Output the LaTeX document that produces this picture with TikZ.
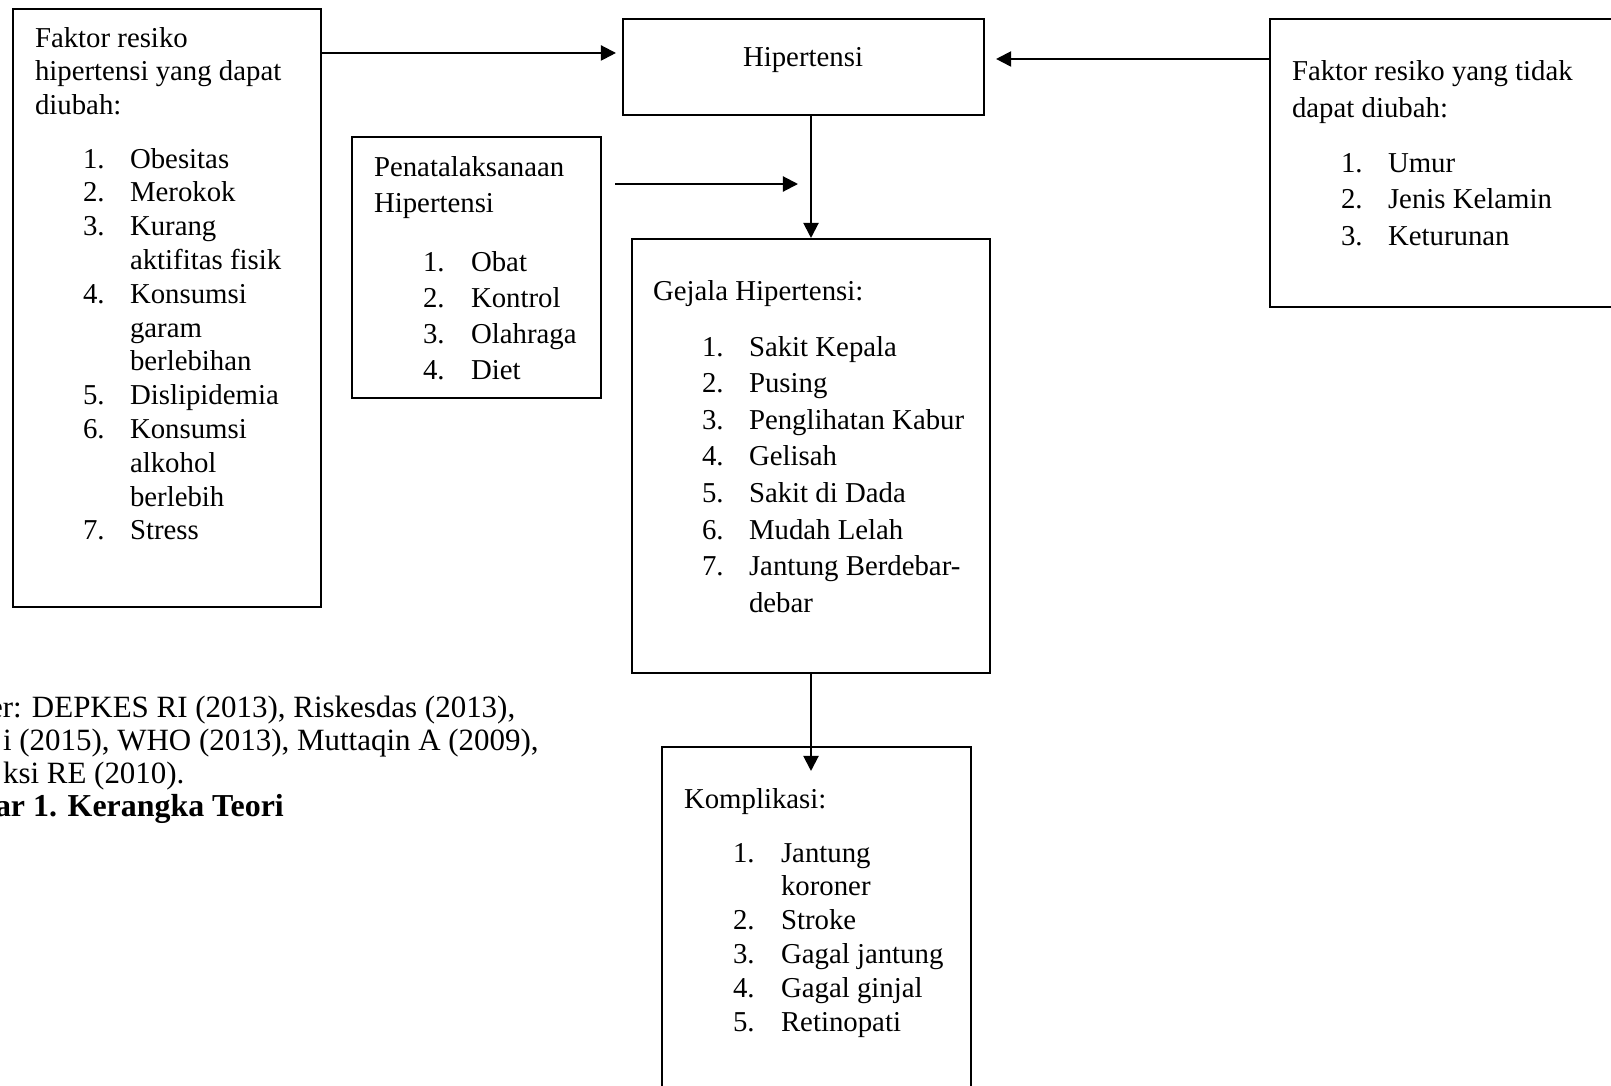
\documentclass[tikz,border=0pt]{standalone}
\usepackage{fontspec}
\setmainfont{Liberation Serif}
\usetikzlibrary{arrows.meta,calc,fit}

\begin{document}
\begin{tikzpicture}[x=0.41667pt,y=-0.41667pt,line width=0.85pt,
        >={Triangle[length=6.3pt,width=6.3pt]},
        box/.style={draw,rectangle,inner sep=0pt},
        txt/.style={anchor=mid west,inner sep=0pt,yshift=-1.9pt,font=\fontsize{12}{14}\selectfont},
        srctxt/.style={txt,font=\fontsize{12.9}{15}\selectfont}]
        \useasboundingbox (0,0) rectangle (1611,1085);
        \clip (0,0) rectangle (1611,1085);

        % boxes
        \node[box,fit={(13,9) (321,607)}] (fakt) {};
        \node[box,fit={(623,19) (984,115)}] (hip) {};
        \node[box,fit={(352,137) (601,398)}] (pen) {};
        \node[box,fit={(1270,19) (1660,307)}] (tidak) {};
        \node[box,fit={(632,239) (990,673)}] (gej) {};
        \node[box,fit={(662,747) (971,1130)}] (komp) {};

        \node[txt,anchor=mid] (hiplbl) at (803,56) {Hipertensi};

        % Faktor resiko yang dapat diubah
        \foreach \t [count=\k from 0] in {Faktor resiko,hipertensi yang dapat,diubah:}
            \node[txt] (fh\k) at (34,{37+33.5*\k}) {\t};
        \foreach \n/\r in {1/0,2/1,3/2,4/4,5/7,6/8,7/11}
            \node[txt] (fn\n) at (82,{158+33.8*\r}) {\n.};
        \foreach \t [count=\k from 0] in {Obesitas,Merokok,Kurang,aktifitas fisik,Konsumsi,garam,
                berlebihan,Dislipidemia,Konsumsi,alkohol,berlebih,Stress}
            \node[txt] (fi\k) at (129,{158+33.8*\k}) {\t};

        % Penatalaksanaan
        \foreach \t [count=\k from 0] in {Penatalaksanaan,Hipertensi}
            \node[txt] (ph\k) at (373,{166+36*\k}) {\t};
        \foreach \t [count=\k from 1] in {Obat,Kontrol,Olahraga,Diet}{
            \node[txt] (pn\k) at (422,{261+36.3*(\k-1)}) {\k.};
            \node[txt] (pi\k) at (470,{261+36.3*(\k-1)}) {\t};
        }

        % Faktor resiko yang tidak dapat diubah
        \foreach \t [count=\k from 0] in {Faktor resiko yang tidak,dapat diubah:}
            \node[txt] (th\k) at (1291,{70+37*\k}) {\t};
        \foreach \t [count=\k from 1] in {Umur,Jenis Kelamin,Keturunan}{
            \node[txt] (tn\k) at (1340,{162+36.5*(\k-1)}) {\k.};
            \node[txt] (ti\k) at (1387,{162+36.5*(\k-1)}) {\t};
        }

        % Gejala
        \node[txt] (gh) at (652,290) {Gejala Hipertensi:};
        \foreach \n in {1,...,7}
            \node[txt] (gn\n) at (701,{346+36.6*(\n-1)}) {\n.};
        \foreach \t [count=\k from 0] in {Sakit Kepala,Pusing,Penglihatan Kabur,Gelisah,
                Sakit di Dada,Mudah Lelah,Jantung Berdebar-,debar}
            \node[txt] (gi\k) at (748,{346+36.6*\k}) {\t};

        % Komplikasi
        \node[txt] (kh) at (683,798) {Komplikasi:};
        \foreach \n/\r in {1/0,2/2,3/3,4/4,5/5}
            \node[txt] (kn\n) at (732,{852+33.8*\r}) {\n.};
        \foreach \t [count=\k from 0] in {Jantung,koroner,Stroke,Gagal jantung,Gagal ginjal,Retinopati}
            \node[txt] (ki\k) at (780,{852+33.8*\k}) {\t};

        % sumber
        \node[srctxt] (src1) at (-12,707) {er: DEPKES RI (2013), Riskesdas (2013),};
        \node[srctxt] (src2) at (2,740) {i (2015), WHO (2013), Muttaqin A (2009),};
        \node[srctxt] (src3) at (2,773) {ksi RE (2010).};
        \node[srctxt,font=\fontsize{13.3}{15.3}\selectfont\bfseries] (cap) at (-6,806) {ar 1. Kerangka Teori};

        % arrows
        \coordinate (pa) at (615,184);
        \coordinate (pb) at (798,184);
        \draw[->,shorten >=2.5pt] ($(fakt.north east)+(0,45)$) -- ($(hip.north west)+(0,35)$);
        \draw[->,shorten >=4.6pt] ($(tidak.north west)+(0,41)$) -- ($(hip.north east)+(0,41)$);
        \draw[->] (pa) -- (pb);
        \draw[->] (hip.south -| gej.north) -- (gej.north);
        \draw[->] (gej.south) -- ($(gej.south |- komp.north)+(0,25)$);
    \end{tikzpicture}
\end{document}
